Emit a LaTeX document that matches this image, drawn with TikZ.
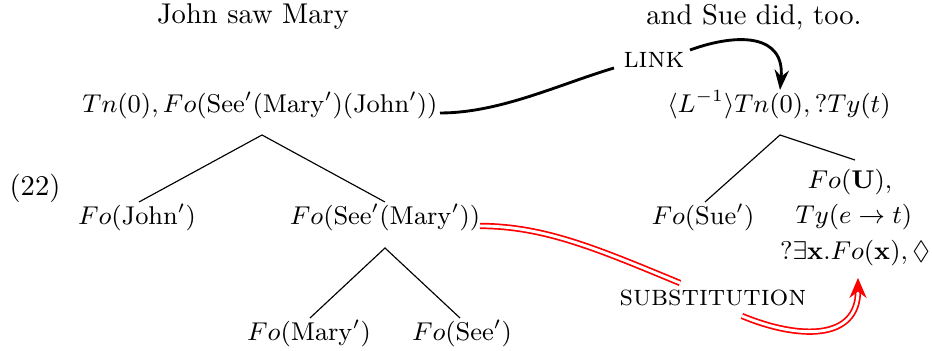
\documentclass[tikz,border=0pt]{standalone}
\usepackage{amssymb}
\usetikzlibrary{arrows.meta}
\begin{document}
\begin{tikzpicture}[x=0.35pt,y=-0.35pt]
\tikzset{
  lbl/.style={inner sep=1pt, anchor=center},
  tnode/.style={lbl, font=\fontsize{9.25}{11}\selectfont},
  rulelabel/.style={lbl, font=\fontsize{10.3}{12}\selectfont},
  tline/.style={line width=0.4pt},
  lnk/.style={line width=1pt},
  subst/.style={draw=red,double=white,double distance=1pt,line width=0.6pt}
}
\useasboundingbox (0,0) rectangle (932,351);
% headings
\node[lbl] (h1) at (253,17) {John saw Mary};
\node[lbl] (h2) at (754,17) {and Sue did, too.};
\node[lbl] (num) at (35,188) {(22)};
% left tree
\node[tnode] (root) at (260,105) {$Tn(0), Fo(\mathrm{See}'(\mathrm{Mary}')(\mathrm{John}'))$};
\node[tnode] (john) at (137,217) {$Fo(\mathrm{John}')$};
\node[tnode] (seemary) at (385,217) {$Fo(\mathrm{See}'(\mathrm{Mary}'))$};
\node[tnode] (mary) at (309,333) {$Fo(\mathrm{Mary}')$};
\node[tnode] (see) at (462,333) {$Fo(\mathrm{See}')$};
\coordinate (a1) at (262,135);
\coordinate (a2) at (385,248);
\coordinate (j1) at (139,202);
\coordinate (s1) at (385,202);
\coordinate (m1) at (310,318);
\coordinate (e1) at (460,318);
\draw[tline] (j1) -- (a1) -- (s1);
\draw[tline] (m1) -- (a2) -- (e1);
% right tree
\node[tnode] (rroot) at (779,105) {$\langle L^{-1}\rangle Tn(0), ?Ty(t)$};
\node[tnode] (sue) at (703,217) {$Fo(\mathrm{Sue}')$};
\node[tnode] (fa) at (850,182) {$Fo(\mathbf{U}),$};
\node[tnode] (fb) at (854,217) {$Ty(e\rightarrow t)$};
\node[tnode] (fc) at (855,253) {$?\exists\mathbf{x}.Fo(\mathbf{x}),\Diamond$};
\coordinate (a3) at (780,135);
\coordinate (u1) at (705,202);
\coordinate (u2) at (855,160);
\draw[tline] (u1) -- (a3) -- (u2);
% labels
\node[rulelabel] (link) at (654,60) {\textsc{link}};
\node[rulelabel] (sub) at (713,298) {\textsc{substitution}};
% LINK connector
\coordinate (lk1) at (440,113);
\coordinate (lk2) at (614,68);
\coordinate (lk3) at (690,50);
\coordinate (lk4) at (780,90);
\draw[lnk] (lk1) .. controls (500,113) and (560,84) .. (lk2);
\draw[lnk,-{Stealth[length=7pt,width=5pt]}] (lk3) .. controls (740,32) and (785,35) .. (lk4);
% SUBSTITUTION connector
\coordinate (sb1) at (480,226);
\coordinate (sb2) at (680,283);
\coordinate (sb3) at (742,316);
\coordinate (sb4) at (858,278);
\draw[subst] (sb1) .. controls (545,226) and (600,250) .. (sb2);
\draw[subst,-{Stealth[length=7pt,width=6pt]}] (sb3) .. controls (800,340) and (858,340) .. (sb4);
\end{tikzpicture}
\end{document}
